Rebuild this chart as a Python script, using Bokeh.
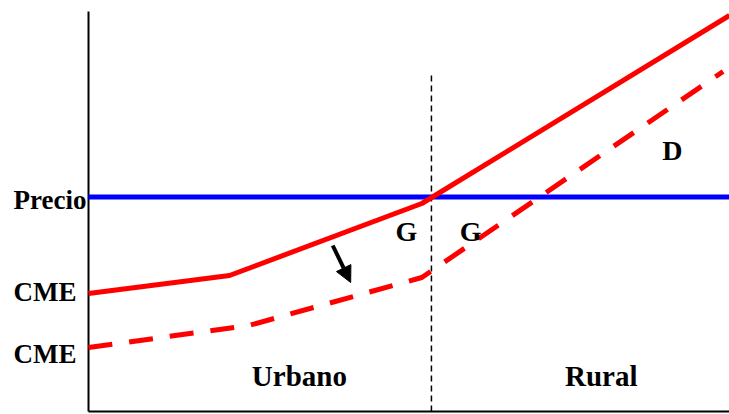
from bokeh.plotting import figure
from bokeh.models import Range1d, Label, Arrow, NormalHead
from bokeh.embed import file_html
from bokeh.resources import INLINE

# Price level (horizontal) and distance split between urban and rural zones
precio = 53.6
frontera = 53.5

# Average cost curve (CME) before and after the shift
cme_x = [0, 22, 52, 100]
cme_y = [29.5, 34, 52, 99]
cme2_x = [0, 25, 52, 99]
cme2_y = [16, 21.5, 33.5, 85]

# Arrow showing the downward shift of the curve
flecha_inicio = (38.1, 41.5)
flecha_fin = (40.9, 32.25)

# Text labels (vertically centred on the given y)
etiquetas_eje = [("Precio", 53.0), ("CME", 29.9), ("CME", 14.3)]
etiquetas = [("G", 49.6, 45.1, "28px"), ("G", 59.6, 45.1, "28px"),
             ("D", 91.1, 65.3, "28px"),
             ("Urbano", 32.9, 9.0, "29px"), ("Rural", 80.0, 8.8, "29px")]

FONT = "Liberation Serif"

p = figure(width=729, height=414, output_backend="svg", toolbar_location=None,
           x_range=Range1d(-13.73, 100), y_range=Range1d(-0.75, 102.75),
           min_border=0)
p.outline_line_color = None
p.grid.visible = False
p.axis.visible = False
p.background_fill_color = "white"
p.border_fill_color = "white"

# Axes
p.line([0, 0], [0, 100], line_color="black", line_width=2)
p.line([0, 100], [0, 0], line_color="black", line_width=2)

# Price line
p.line([0, 100], [precio, precio], line_color="#0000ff", line_width=5)

# Zone boundary
p.line([frontera, frontera], [0, 84], line_color="black", line_width=1.5,
       line_dash="6 4")

# Cost curves
p.line(cme_x, cme_y, line_color="#ff0000", line_width=5)
p.line(cme2_x, cme2_y, line_color="#ff0000", line_width=5, line_dash="24 17")

p.add_layout(Arrow(x_start=flecha_inicio[0], y_start=flecha_inicio[1],
                   x_end=flecha_fin[0], y_end=flecha_fin[1],
                   line_width=4, line_color="black",
                   end=NormalHead(size=16, fill_color="black", line_color="black")))

for txt, y in etiquetas_eje:
    p.add_layout(Label(x=-11.7, y=y, text=txt, text_font=FONT,
                       text_font_style="bold", text_font_size="27px",
                       text_align="left", text_baseline="middle",
                       text_color="black"))

for txt, x, y, size in etiquetas:
    p.add_layout(Label(x=x, y=y, text=txt, text_font=FONT,
                       text_font_style="bold", text_font_size=size,
                       text_align="center", text_baseline="middle",
                       text_color="black"))

open("out.html", "w").write(file_html(p, INLINE))
